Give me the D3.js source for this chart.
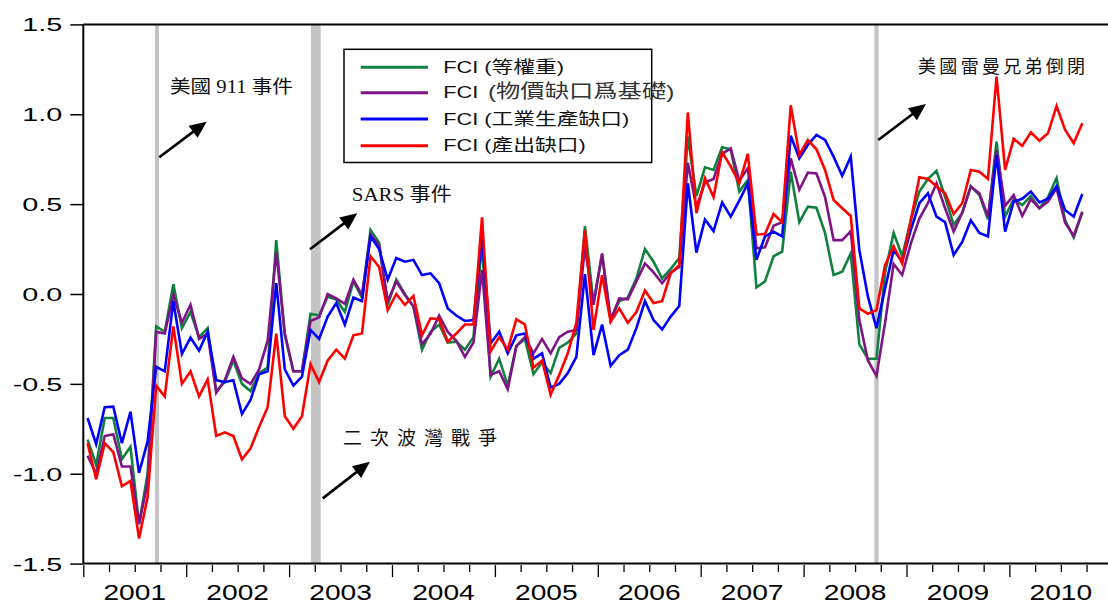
<!DOCTYPE html>
<html>
<head>
<meta charset="utf-8">
<script src="https://cdn.jsdelivr.net/npm/d3@7"></script>
<style>
  html, body { margin: 0; padding: 0; background: #ffffff; }
  svg { display: block; }
</style>
</head>
<body>
<svg id="chart" width="1108" height="606"></svg>
<script>
// Monthly financial conditions indices, 2001-01 .. 2010-09 (index 0 = Jan 2001)
const startYear = 2001;
const yearLabels = ["2001", "2002", "2003", "2004", "2005", "2006", "2007", "2008", "2009", "2010"];
const yTickValues = [-1.5, -1.0, -0.5, 0.0, 0.5, 1.0, 1.5];

const seriesNames = ["FCI (等權重)", "FCI (物價缺口爲基礎)", "FCI (工業生產缺口)", "FCI (產出缺口)"];
const seriesColors = ["#12803f", "#7f1487", "#0000ff", "#ff0000"];

const fciEqualWeight = [
  -0.81, -0.95, -0.69, -0.69, -0.92, -0.85, -1.28, -1.00, -0.18, -0.21, 0.055, -0.19,
  -0.10, -0.24, -0.19, -0.54, -0.49, -0.37, -0.50, -0.54, -0.44, -0.41, 0.30, -0.23,
  -0.43, -0.43, -0.11, -0.12, -0.015, -0.03, -0.10, 0.07, -0.02, 0.356, 0.285, -0.06,
  0.08, 0.0, -0.07, -0.31, -0.21, -0.17, -0.27, -0.265, -0.31, -0.24, 0.28, -0.46,
  -0.36, -0.51, -0.29, -0.25, -0.445, -0.38, -0.44, -0.30, -0.27, -0.22, 0.378, -0.05,
  0.22, -0.14, -0.04, -0.02, 0.087, 0.25, 0.18, 0.087, 0.14, 0.20, 0.876, 0.545,
  0.705, 0.69, 0.816, 0.805, 0.57, 0.635, 0.037, 0.07, 0.21, 0.236, 0.68, 0.40,
  0.486, 0.48, 0.34, 0.106, 0.124, 0.226, -0.28, -0.36, -0.36, 0.12, 0.34, 0.21,
  0.41, 0.57, 0.64, 0.685, 0.54, 0.384, 0.45, 0.60, 0.55, 0.415, 0.848, 0.43,
  0.527, 0.495, 0.545, 0.477, 0.54, 0.644, 0.41, 0.315, 0.453
];

const fciPriceGap = [
  -0.90, -1.00, -0.79, -0.78, -0.96, -0.96, -1.28, -1.05, -0.21, -0.22, -0.005, -0.16,
  -0.06, -0.25, -0.22, -0.55, -0.48, -0.35, -0.47, -0.50, -0.42, -0.26, 0.235, -0.22,
  -0.43, -0.43, -0.15, -0.13, 0.0, -0.025, -0.055, 0.08, -0.005, 0.33, 0.27, -0.04,
  0.07, -0.005, -0.07, -0.28, -0.22, -0.12, -0.21, -0.26, -0.35, -0.27, 0.134, -0.45,
  -0.43, -0.53, -0.29, -0.24, -0.33, -0.25, -0.33, -0.24, -0.21, -0.20, 0.26, -0.06,
  0.226, -0.145, -0.025, -0.03, 0.07, 0.17, 0.12, 0.06, 0.12, 0.15, 0.73, 0.48,
  0.62, 0.64, 0.78, 0.81, 0.63, 0.70, 0.254, 0.26, 0.38, 0.40, 0.755, 0.58,
  0.675, 0.67, 0.54, 0.30, 0.30, 0.35, -0.145, -0.37, -0.456, -0.16, 0.167, 0.106,
  0.28, 0.42, 0.505, 0.616, 0.477, 0.347, 0.453, 0.597, 0.56, 0.43, 0.80, 0.49,
  0.55, 0.434, 0.527, 0.477, 0.514, 0.588, 0.397, 0.323, 0.458
];

const fciIndustrialGap = [
  -0.69, -0.835, -0.63, -0.627, -0.83, -0.655, -0.995, -0.82, -0.405, -0.43, -0.04, -0.334,
  -0.243, -0.315, -0.21, -0.48, -0.49, -0.48, -0.668, -0.59, -0.447, -0.43, 0.06, -0.42,
  -0.51, -0.46, -0.20, -0.25, -0.126, -0.05, -0.17, -0.02, -0.04, 0.32, 0.25, 0.08,
  0.20, 0.18, 0.19, 0.105, 0.115, 0.06, -0.08, -0.12, -0.15, -0.145, 0.32, -0.275,
  -0.21, -0.33, -0.23, -0.22, -0.36, -0.33, -0.52, -0.50, -0.44, -0.35, 0.11, -0.34,
  -0.17, -0.40, -0.34, -0.31, -0.19, -0.04, -0.145, -0.197, -0.126, -0.067, 0.616, 0.23,
  0.415, 0.35, 0.51, 0.43, 0.52, 0.616, 0.19, 0.32, 0.347, 0.32, 0.88, 0.755,
  0.83, 0.885, 0.857, 0.764, 0.657, 0.764, 0.245, -0.015, -0.19, 0.03, 0.245, 0.18,
  0.356, 0.505, 0.56, 0.43, 0.40, 0.217, 0.29, 0.41, 0.34, 0.32, 0.774, 0.347,
  0.514, 0.53, 0.57, 0.51, 0.53, 0.60, 0.467, 0.43, 0.556
];

const fciOutputGap = [
  -0.83, -1.03, -0.83, -0.88, -1.07, -1.04, -1.36, -1.13, -0.51, -0.57, -0.18, -0.50,
  -0.43, -0.57, -0.475, -0.79, -0.77, -0.79, -0.92, -0.86, -0.74, -0.63, -0.22, -0.68,
  -0.75, -0.68, -0.39, -0.49, -0.37, -0.31, -0.36, -0.23, -0.22, 0.21, 0.15, -0.09,
  0.0, -0.06, -0.01, -0.23, -0.135, -0.14, -0.265, -0.22, -0.17, -0.17, 0.427, -0.32,
  -0.24, -0.31, -0.14, -0.17, -0.41, -0.37, -0.56, -0.45, -0.33, -0.16, 0.356, -0.20,
  0.105, -0.154, -0.08, -0.16, -0.10, 0.02, -0.05, -0.04, 0.115, 0.16, 1.01, 0.45,
  0.644, 0.54, 0.79, 0.71, 0.616, 0.78, 0.33, 0.334, 0.445, 0.40, 1.05, 0.774,
  0.857, 0.805, 0.69, 0.523, 0.477, 0.434, -0.08, -0.11, -0.09, 0.16, 0.265, 0.17,
  0.41, 0.65, 0.64, 0.60, 0.56, 0.445, 0.505, 0.69, 0.68, 0.64, 1.21, 0.69,
  0.863, 0.824, 0.90, 0.853, 0.894, 1.046, 0.913, 0.839, 0.95
];

const allSeries = [fciEqualWeight, fciPriceGap, fciIndustrialGap, fciOutputGap];

// Event periods, in months since Jan 2001 (fractional): 911, Iraq war, Lehman collapse
const eventBands = [[8.36, 8.83], [26.55, 27.68], [92.25, 92.75]];

// Event notes: text anchor and arrow tail/head, in (month, value) coordinates
const eventNotes = [
  { text: "美國 911 事件", at: [10.1, 1.118], width: 123, size: 18, fit: "spacingAndGlyphs", arrow: [[8.86, 0.761], [14.39, 0.959]] },
  { text: "SARS 事件", at: [31.3, 0.5175], width: 100, size: 19, fit: "spacingAndGlyphs", arrow: [[26.44, 0.249], [31.95, 0.449]] },
  { text: "二次波灣戰爭", at: [30.3, -0.84], width: 154, size: 19, fit: "spacing", arrow: [[27.92, -1.137], [33.43, -0.933]] },
  { text: "美國雷曼兄弟倒閉", at: [97.35, 1.23], width: 167, size: 18, fit: "spacing", arrow: [[92.71, 0.857], [98.27, 1.057]] }
];

const W = 1108, H = 606;
const svg = d3.select("#chart");
svg.append("rect").attr("width", W).attr("height", H).attr("fill", "#ffffff");

const plotLeft = 83.3, plotTop = 24.4, plotBottom = 563.6;
const monthsSpan = yearLabels.length * 12;
const x = d3.scaleLinear().domain([0, monthsSpan]).range([plotLeft, plotLeft + monthsSpan * 8.575]);
const y = d3.scaleLinear().domain([-1.5, 1.5]).range([plotBottom, plotTop]);

const sansFont = "'Liberation Sans', Arial, 'Noto Sans CJK TC', sans-serif";
const serifFont = "'Liberation Serif', 'Times New Roman', 'Noto Sans CJK TC', serif";

// Shaded event periods
svg.append("g").selectAll("rect").data(eventBands).join("rect")
  .attr("x", d => x(d[0]))
  .attr("width", d => x(d[1]) - x(d[0]))
  .attr("y", y(1.5))
  .attr("height", y(-1.5) - y(1.5))
  .attr("fill", "#c4c4c4");

// Plot frame: top edge
svg.append("line")
  .attr("x1", plotLeft).attr("x2", W)
  .attr("y1", y(1.5)).attr("y2", y(1.5))
  .attr("stroke", "#000").attr("stroke-width", 2);

// Series lines
const line = d3.line()
  .x((d, i) => x(i + 0.5))
  .y(d => y(d));

svg.append("g").selectAll("path").data(allSeries).join("path")
  .attr("d", line)
  .attr("fill", "none")
  .attr("stroke", (d, i) => seriesColors[i])
  .attr("stroke-width", 2.6)
  .attr("stroke-linejoin", "miter")
  .attr("stroke-miterlimit", 4);

// Y axis
const yAxis = svg.append("g")
  .attr("transform", `translate(${plotLeft},0)`)
  .call(d3.axisLeft(y).tickValues(yTickValues).tickSize(13).tickSizeOuter(0).tickFormat(""));
yAxis.select(".domain").attr("stroke", "#000").attr("stroke-width", 2)
  .attr("d", `M0,${y(1.5)}V${y(-1.5)}`);
yAxis.selectAll(".tick line").attr("stroke", "#000").attr("stroke-width", 1.5);
yAxis.selectAll(".tick").append("text")
  .attr("transform", "translate(-21,0) scale(1.6,1)")
  .attr("text-anchor", "end")
  .attr("dy", "0.36em")
  .attr("fill", "#000")
  .attr("font-family", sansFont)
  .attr("font-size", 18)
  .text(d => d.toFixed(1));

// X axis: quarterly ticks, longer at year boundaries
const xAxis = svg.append("g")
  .attr("transform", `translate(0,${plotBottom})`)
  .call(d3.axisBottom(x).tickValues(d3.range(0, monthsSpan + 1, 3)).tickSize(8).tickSizeOuter(0).tickFormat(""));
xAxis.select(".domain").attr("stroke", "#000").attr("stroke-width", 2)
  .attr("d", `M${plotLeft},0H${W}`);
xAxis.selectAll(".tick line")
  .attr("stroke", "#000").attr("stroke-width", 1.3)
  .attr("y1", 1.5)
  .attr("y2", d => d % 12 === 0 ? 13.5 : 8.5);

svg.append("g").selectAll("text").data(yearLabels).join("text")
  .attr("transform", (d, i) => `translate(${x(i * 12 + 6)},${plotBottom + 36.5}) scale(1.28,1)`)
  .attr("text-anchor", "middle")
  .attr("fill", "#000")
  .attr("font-family", sansFont)
  .attr("font-size", 22)
  .text(d => d);

// Event notes and arrows
const notes = svg.append("g");
notes.selectAll("text").data(eventNotes).join("text")
  .attr("x", d => x(d.at[0]))
  .attr("y", d => y(d.at[1]))
  .attr("font-family", serifFont)
  .attr("font-size", d => d.size)
  .attr("fill", "#111")
  .attr("textLength", d => d.width)
  .attr("lengthAdjust", d => d.fit)
  .text(d => d.text);

eventNotes.forEach(d => {
  const [x0, y0] = [x(d.arrow[0][0]), y(d.arrow[0][1])];
  const [x1, y1] = [x(d.arrow[1][0]), y(d.arrow[1][1])];
  const ang = Math.atan2(y1 - y0, x1 - x0);
  const headLen = 17, headHalf = 7.5;
  const bx = x1 - headLen * Math.cos(ang), by = y1 - headLen * Math.sin(ang);
  notes.append("line")
    .attr("x1", x0).attr("y1", y0).attr("x2", bx + 2 * Math.cos(ang)).attr("y2", by + 2 * Math.sin(ang))
    .attr("stroke", "#000").attr("stroke-width", 2.6);
  const px = -Math.sin(ang), py = Math.cos(ang);
  notes.append("path")
    .attr("d", `M${x1},${y1}L${bx + headHalf * px},${by + headHalf * py}L${bx - headHalf * px},${by - headHalf * py}Z`)
    .attr("fill", "#000");
});

// Legend
const legend = svg.append("g");
legend.append("rect")
  .attr("x", 344).attr("y", 49.3).attr("width", 307.7).attr("height", 113.2)
  .attr("fill", "#ffffff").attr("stroke", "#000").attr("stroke-width", 1.5);
const rowY = [67.3, 92.7, 119, 145.7];
const rows = legend.selectAll("g.row").data(seriesNames).join("g").attr("class", "row");
rows.append("line")
  .attr("x1", 360.7).attr("x2", 428)
  .attr("y1", (d, i) => rowY[i]).attr("y2", (d, i) => rowY[i])
  .attr("stroke", (d, i) => seriesColors[i])
  .attr("stroke-width", 3);
const labels = rows.append("text")
  .attr("transform", (d, i) => `translate(443.3,${rowY[i] + 5.5}) scale(1.28,1)`)
  .attr("font-family", sansFont)
  .attr("font-size", 17)
  .attr("fill", "#111");
labels.append("tspan").text(d => d.split(" ")[0]);
labels.append("tspan")
  .attr("dx", (d, i) => i === 1 ? 7.5 : 4.7)
  .attr("font-size", (d, i) => i === 1 ? 19 : 17)
  .attr("fill", (d, i) => i === 1 ? "#333" : "#111")
  .text(d => d.slice(d.indexOf(" ") + 1));
</script>
</body>
</html>
